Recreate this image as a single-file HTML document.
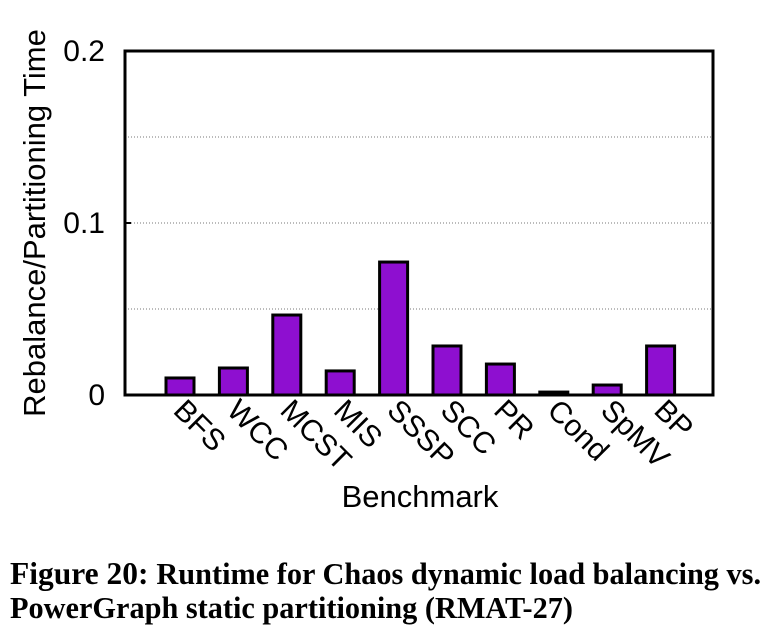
<!DOCTYPE html>
<html><head><meta charset="utf-8"><style>
body{margin:0;background:#fff;width:783px;height:639px;overflow:hidden}
.cap{position:absolute;left:10px;top:557px;font-family:"Liberation Serif",serif;font-weight:bold;font-size:31.5px;line-height:34px;color:#000;white-space:nowrap}
</style></head><body>
<svg id="chart" width="783" height="545" style="position:absolute;left:0;top:0" font-family="Liberation Sans, sans-serif"></svg>
<div class="cap">Figure 20: <span style="font-size:30.3px">Runtime for Chaos dynamic load balancing vs.<br>PowerGraph static partitioning (RMAT-27)</span></div>
<script>
const categories=["BFS","WCC","MCST","MIS","SSSP","SCC","PR","Cond","SpMV","BP"];
const values=[0.0099,0.0157,0.0465,0.014,0.0773,0.0285,0.018,0.0017,0.0058,0.0285];
const yTicks=[0,0.1,0.2];
const yTickLabels=["0","0.1","0.2"];
const gridVals=[0.05,0.1,0.15];
const NS="http://www.w3.org/2000/svg";
const svg=document.getElementById('chart');
const L=125,R=713,T=51,B=395,yMax=0.2;
const y=v=>B-(v/yMax)*(B-T);
const x0=180,step=53.4;
const x=i=>x0+i*step;
function mk(t,a){const e=document.createElementNS(NS,t);for(const k in a)e.setAttribute(k,a[k]);svg.appendChild(e);return e;}
gridVals.forEach(g=>{const l=mk('line',{x1:L,x2:R,y1:y(g),y2:y(g),stroke:'#777','stroke-width':1,'stroke-dasharray':'1,2'});

});
values.forEach((v,i)=>{const r=mk('rect',{x:x(i)-14,y:y(v),width:28,height:B-y(v),fill:'#8e0fd0',stroke:'#000','stroke-width':3});


const t=mk('text',{x:0,y:0,'font-size':30,transform:`translate(${x(i)-8},${B+17}) rotate(45)`});
t.textContent=categories[i];

});
const fr=mk('rect',{x:L,y:T,width:R-L,height:B-T,fill:'none',stroke:'#000','stroke-width':3});


yTicks.forEach((v,i)=>{const t=mk('text',{x:L-20,y:y(v)+10,'font-size':30,'text-anchor':'end'});t.textContent=yTickLabels[i];


const tk=mk('line',{x1:L,x2:L+6,y1:y(v),y2:y(v),stroke:'#000','stroke-width':2});

});
const yt=mk('text',{x:0,y:0,'font-size':31,'text-anchor':'middle',transform:`translate(45,${(T+B)/2}) rotate(-90)`});
yt.textContent='Rebalance/Partitioning Time';


const xt=mk('text',{x:420,y:507,'font-size':31,'text-anchor':'middle'});
xt.textContent='Benchmark';


</script>
</body></html>
